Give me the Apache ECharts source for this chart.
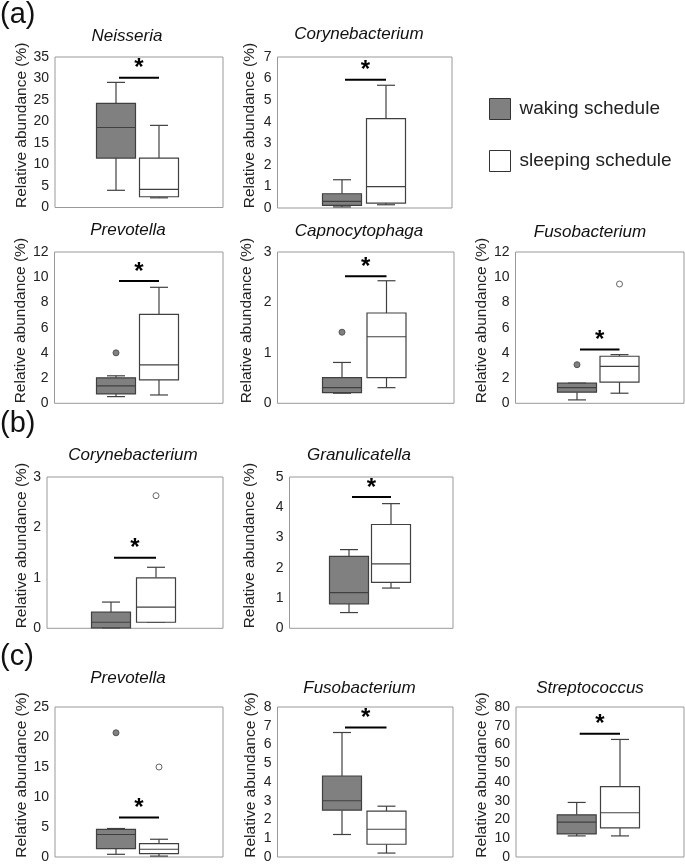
<!DOCTYPE html>
<html><head><meta charset="utf-8">
<script src="https://cdn.jsdelivr.net/npm/echarts@6/dist/echarts.min.js"></script>
<style>html,body{margin:0;padding:0;background:#fff}#c{width:685px;height:864px}</style>
</head><body><div id="c"></div><script>
// ---------------- data ----------------
const panelTitles = ['Neisseria', 'Corynebacterium', 'Prevotella', 'Capnocytophaga', 'Fusobacterium',
  'Corynebacterium', 'Granulicatella', 'Prevotella', 'Fusobacterium', 'Streptococcus'];
const groupNames = ['waking schedule', 'sleeping schedule'];
const sectionLabels = ['(a)', '(b)', '(c)'];
const yAxisName = 'Relative abundance (%)';
// [min, Q1, median, Q3, max]
const wakingStats = [
  [4.0, 11.5, 18.6, 24.2, 29.1],
  [0.05, 0.12, 0.31, 0.66, 1.31],
  [0.53, 0.74, 1.38, 2.02, 2.18],
  [0.2, 0.21, 0.31, 0.51, 0.81],
  [0.27, 0.88, 1.25, 1.6, 1.6],
  [0.01, 0.01, 0.12, 0.32, 0.52],
  [0.52, 0.81, 1.18, 2.38, 2.6],
  [0.45, 1.4, 3.75, 4.6, 4.75],
  [1.2, 2.5, 3.0, 4.32, 6.64],
  [11.25, 12.3, 18.6, 22.5, 29.1]
];
const sleepingStats = [
  [2.25, 2.5, 4.2, 11.5, 19.1],
  [0.15, 0.23, 0.99, 4.14, 5.69],
  [0.66, 1.86, 3.04, 7.06, 9.2],
  [0.31, 0.51, 1.32, 1.79, 2.43],
  [0.8, 1.68, 2.93, 3.73, 3.86],
  [0.12, 0.12, 0.42, 1.0, 1.21],
  [1.33, 1.52, 2.13, 3.43, 4.12],
  [0.15, 0.56, 1.29, 2.24, 2.96],
  [0.21, 0.68, 1.48, 2.45, 2.71],
  [11.25, 15.5, 23.6, 37.5, 62.7]
];
const wakingOutliers = [[], [], [4.0], [1.41], [3.06], [], [], [20.7], [], []];
const sleepingOutliers = [[], [], [], [], [9.46], [2.63], [], [15.0], [], []];
const sigLineY = [30.2, 5.95, 9.7, 2.52, 4.26, 1.4, 4.34, 6.6, 6.91, 65.7];
const yAxisMax = [35, 7, 12, 3, 12, 3, 5, 25, 8, 80];
const yAxisStep = [5, 1, 2, 1, 2, 1, 1, 5, 1, 10];

// ---------------- layout (pixels) ----------------
// [left, top, right, bottom, center1, center2, nameGap, titleCenterX, titleTop]
const layout = [
  [55, 57, 223, 207.5, 116, 159, 18.5, 127, 28],
  [277.5, 57, 452, 208, 342, 386, 19.5, 359, 26],
  [54.5, 252, 223, 403.3, 116, 159, 19.5, 128, 222],
  [277.5, 252, 454, 403.3, 342, 386.5, 22.5, 359, 223],
  [515.5, 252, 684, 403.3, 577, 619.5, 25.5, 590, 223.5],
  [47, 477, 223, 628.3, 111, 156, 12, 133, 447],
  [289.5, 477, 453, 628.3, 349, 391, 31.5, 359, 447],
  [55, 707, 223, 858, 116, 159, 19, 128, 670],
  [277.5, 707, 453, 858, 342, 386.5, 19, 359.5, 679.5],
  [516, 707, 684, 858, 576.7, 620, 26, 590, 679.5]
];
const sectionTops = [0, 409, 642];
const FONT = "'Liberation Sans', Arial, Helvetica, sans-serif";
const BOX_W = 39, CAP_W = 18;
const LINE = '#404040';
const GRAY = '#808080';

function boxRenderer(fill) {
  return function (params, api) {
    const x = api.value(0);
    const pts = [1, 2, 3, 4, 5].map(k => api.coord([x, api.value(k)]));
    const cx = pts[0][0];
    const y = pts.map(p => p[1]);
    const hw = BOX_W / 2, cw = CAP_W / 2;
    const ls = { stroke: LINE, lineWidth: 1.2 };
    return {
      type: 'group',
      children: [
        { type: 'line', shape: { x1: cx, y1: y[4], x2: cx, y2: y[3] }, style: ls },
        { type: 'line', shape: { x1: cx - cw, y1: y[4], x2: cx + cw, y2: y[4] }, style: ls },
        { type: 'line', shape: { x1: cx, y1: y[1], x2: cx, y2: y[0] }, style: ls },
        { type: 'line', shape: { x1: cx - cw, y1: y[0], x2: cx + cw, y2: y[0] }, style: ls },
        { type: 'rect', shape: { x: cx - hw, y: y[3], width: BOX_W, height: y[1] - y[3] },
          style: { fill: fill, stroke: LINE, lineWidth: 1.2 } },
        { type: 'line', shape: { x1: cx - hw, y1: y[2], x2: cx + hw, y2: y[2] }, style: ls }
      ]
    };
  };
}
function sigRenderer(params, api) {
  const v = api.value(1);
  const p1 = api.coord([1, v]);
  const p2 = api.coord([2, v]);
  return {
    type: 'group',
    children: [
      { type: 'line', shape: { x1: p1[0] + 3, y1: p1[1], x2: p2[0], y2: p2[1] },
        style: { stroke: '#000', lineWidth: 2 } },
      { type: 'text', x: (p1[0] + 3 + p2[0]) / 2, y: p1[1] - 9,
        style: { text: '*', fill: '#000', font: 'bold 24px ' + FONT, textAlign: 'center', textVerticalAlign: 'middle' } }
    ]
  };
}

const grids = [], xAxes = [], yAxes = [], series = [], titles = [];
sectionLabels.forEach((s, k) => {
  titles.push({ text: s, left: 0, top: sectionTops[k], padding: 0,
    textStyle: { fontFamily: FONT, fontSize: 29, fontWeight: 'normal', color: '#111' } });
});
panelTitles.forEach((t, i) => {
  const [l, tp, r, b, c1, c2, ng, tx, tt] = layout[i];
  const unit = c2 - c1;
  grids.push({ left: l, top: tp, width: r - l, height: b - tp, show: true,
    borderColor: '#999', borderWidth: 1, backgroundColor: 'transparent' });
  xAxes.push({ type: 'value', gridIndex: i, min: 1 - (c1 - l) / unit, max: 1 + (r - c1) / unit, show: false });
  yAxes.push({ type: 'value', gridIndex: i, min: 0, max: yAxisMax[i], interval: yAxisStep[i],
    axisLine: { show: false }, axisTick: { show: false }, splitLine: { show: false },
    axisLabel: { margin: 6, fontSize: 14, color: '#222', fontFamily: FONT },
    name: yAxisName, nameLocation: 'middle', nameGap: ng, nameRotate: 90,
    nameTextStyle: { fontSize: 15.5, color: '#222', fontFamily: FONT, padding: [0, 0, 0, 14] } });
  titles.push({ text: t, left: tx, top: tt, textAlign: 'center', padding: 0,
    textStyle: { fontFamily: FONT, fontSize: 17, fontStyle: 'italic', fontWeight: 'normal', color: '#111' } });
  series.push({ type: 'custom', name: groupNames[0], xAxisIndex: i, yAxisIndex: i, silent: true,
    itemStyle: { color: GRAY }, data: [[1].concat(wakingStats[i])], renderItem: boxRenderer(GRAY), z: 2 });
  series.push({ type: 'custom', name: groupNames[1], xAxisIndex: i, yAxisIndex: i, silent: true,
    itemStyle: { color: '#fff' }, data: [[2].concat(sleepingStats[i])], renderItem: boxRenderer('#fff'), z: 2 });
  series.push({ type: 'scatter', xAxisIndex: i, yAxisIndex: i, silent: true, symbolSize: 6, z: 3,
    itemStyle: { color: GRAY, borderColor: '#555', borderWidth: 1, opacity: 1 },
    data: wakingOutliers[i].map(v => [1, v]) });
  series.push({ type: 'scatter', xAxisIndex: i, yAxisIndex: i, silent: true, symbolSize: 6, z: 3,
    itemStyle: { color: '#fff', borderColor: '#666', borderWidth: 1, opacity: 1 },
    data: sleepingOutliers[i].map(v => [2, v]) });
  series.push({ type: 'custom', xAxisIndex: i, yAxisIndex: i, silent: true, z: 4,
    data: [[1.5, sigLineY[i]]], renderItem: sigRenderer });
});

const chart = echarts.init(document.getElementById('c'), null, { renderer: 'canvas' });
chart.setOption({
  animation: false,
  backgroundColor: '#fff',
  title: titles,
  grid: grids,
  xAxis: xAxes,
  yAxis: yAxes,
  legend: {
    orient: 'vertical', left: 489, top: 98, itemWidth: 21, itemHeight: 21, itemGap: 30,
    selectedMode: false, padding: 0,
    data: [
      { name: groupNames[0], icon: 'rect', itemStyle: { color: GRAY, borderColor: '#333', borderWidth: 1 } },
      { name: groupNames[1], icon: 'rect', itemStyle: { color: '#fff', borderColor: '#333', borderWidth: 1 } }
    ],
    textStyle: { fontSize: 19, color: '#222', fontFamily: FONT, padding: [0, 0, 0, 4] }
  },
  series: series
});
</script></body></html>
